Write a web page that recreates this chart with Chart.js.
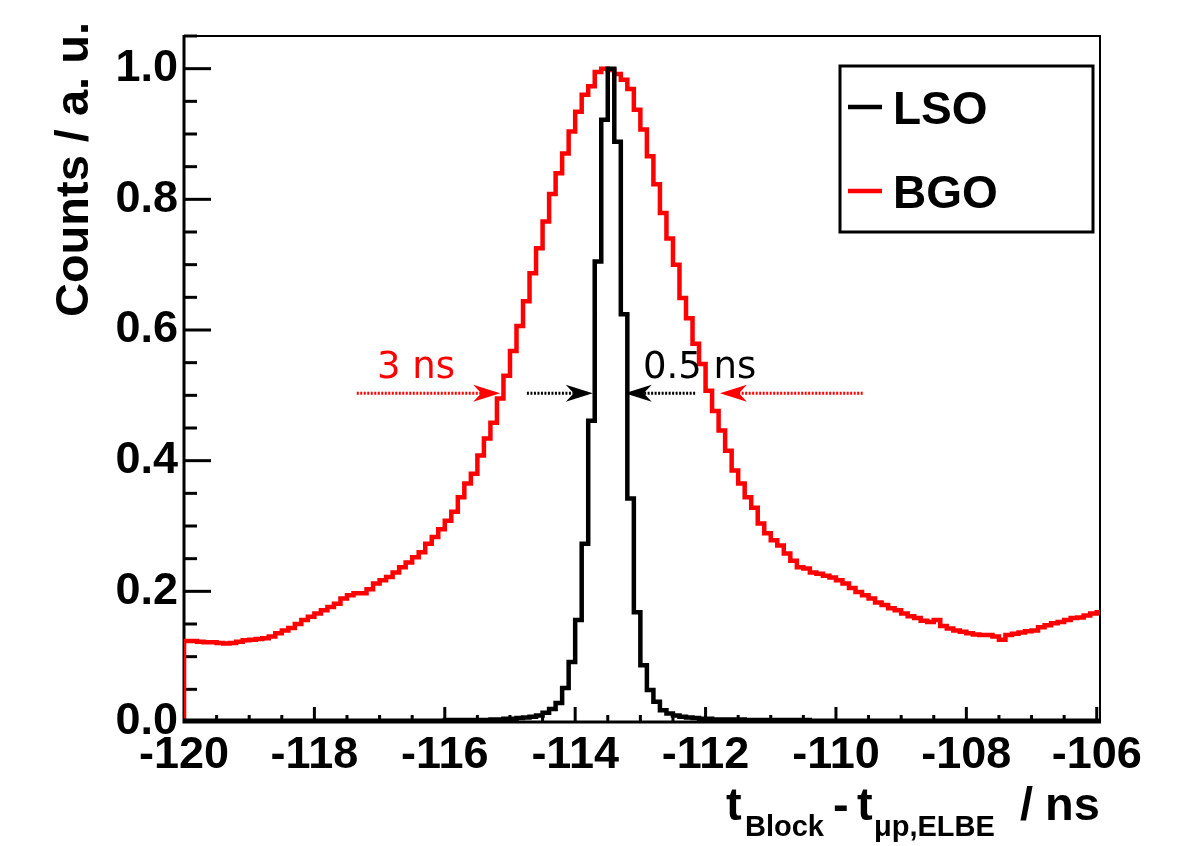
<!DOCTYPE html>
<html>
<head>
<meta charset="utf-8">
<script src="https://cdn.jsdelivr.net/npm/chart.js@4.4.1/dist/chart.umd.min.js"></script>
<style>
  html, body { margin: 0; padding: 0; background: #fff; }
  #chart { display: block; }
</style>
</head>
<body>
<canvas id="chart" width="1191" height="846"></canvas>
<script>
// histogram binning (0.1 ns bins starting at -120 ns)
const binStart = -120;
const binWidth = 0.1;

// LSO counts, normalised to peak
const lsoValues = [
  0.002, 0.002, 0.002, 0.002, 0.002, 0.002, 0.002, 0.002, 0.002, 0.002,
  0.002, 0.002, 0.002, 0.002, 0.002, 0.002, 0.002, 0.002, 0.002, 0.002,
  0.002, 0.002, 0.002, 0.002, 0.002, 0.002, 0.002, 0.002, 0.002, 0.002,
  0.002, 0.002, 0.002, 0.002, 0.002, 0.002, 0.002, 0.002, 0.002, 0.002,
  0.003, 0.003, 0.003, 0.003, 0.003, 0.003, 0.003, 0.004, 0.004, 0.005,
  0.005, 0.006, 0.007, 0.008, 0.010, 0.014, 0.020, 0.029, 0.052, 0.092,
  0.156, 0.273, 0.461, 0.705, 0.922, 1.000, 0.888, 0.624, 0.342, 0.168,
  0.087, 0.049, 0.031, 0.018, 0.013, 0.010, 0.008, 0.007, 0.006, 0.005,
  0.005, 0.004, 0.004, 0.004, 0.004, 0.004, 0.003, 0.003, 0.003, 0.003,
  0.003, 0.003, 0.003, 0.003, 0.003, 0.003, 0.002, 0.002, 0.002, 0.002,
  0.002, 0.002, 0.002, 0.002, 0.002, 0.002, 0.002, 0.002, 0.002, 0.002,
  0.002, 0.002, 0.002, 0.002, 0.002, 0.002, 0.002, 0.002, 0.002, 0.002,
  0.002, 0.002, 0.002, 0.002, 0.002, 0.002, 0.002, 0.002, 0.002, 0.002,
  0.002, 0.002, 0.002, 0.002, 0.002, 0.002, 0.002, 0.002, 0.002, 0.002,
  0.002
];

// BGO counts, normalised to peak
const bgoValues = [
  0.124, 0.124, 0.123, 0.122, 0.122, 0.121, 0.120, 0.121, 0.123, 0.125,
  0.126, 0.127, 0.128, 0.131, 0.136, 0.140, 0.144, 0.150, 0.156, 0.161,
  0.166, 0.171, 0.176, 0.181, 0.189, 0.194, 0.197, 0.197, 0.203, 0.212,
  0.217, 0.222, 0.229, 0.237, 0.244, 0.252, 0.260, 0.273, 0.283, 0.295,
  0.308, 0.322, 0.344, 0.365, 0.380, 0.408, 0.434, 0.458, 0.495, 0.530,
  0.568, 0.606, 0.644, 0.687, 0.725, 0.766, 0.808, 0.840, 0.870, 0.904,
  0.934, 0.960, 0.973, 0.995, 1.000, 0.998, 0.992, 0.983, 0.969, 0.937,
  0.907, 0.866, 0.823, 0.779, 0.740, 0.700, 0.649, 0.618, 0.579, 0.548,
  0.507, 0.476, 0.446, 0.415, 0.385, 0.365, 0.344, 0.328, 0.304, 0.289,
  0.278, 0.270, 0.258, 0.247, 0.237, 0.235, 0.229, 0.227, 0.224, 0.221,
  0.217, 0.212, 0.205, 0.199, 0.194, 0.189, 0.183, 0.179, 0.174, 0.171,
  0.166, 0.162, 0.159, 0.155, 0.153, 0.156, 0.147, 0.143, 0.140, 0.138,
  0.136, 0.134, 0.133, 0.133, 0.131, 0.126, 0.133, 0.135, 0.137, 0.139,
  0.140, 0.145, 0.148, 0.151, 0.153, 0.156, 0.159, 0.160, 0.163, 0.166,
  0.168
];

const xTickLabels = [-120, -118, -116, -114, -112, -110, -108, -106];
const yTickLabels = ["0.0", "0.2", "0.4", "0.6", "0.8", "1.0"];

const seriesNames = ["LSO", "BGO"];
const seriesColors = ["#000000", "#ff0000"];

// FWHM markers: [tail, tip] in ns at the half-maximum level
const halfLevel = 0.503;
const fwhmArrows = [
  { from: -117.35, to: -115.15, color: "#ff0000" },
  { from: -114.74, to: -113.73, color: "#000000" },
  { from: -112.16, to: -113.24, color: "#000000" },
  { from: -109.59, to: -111.78, color: "#ff0000" }
];
const fwhmLabels = [
  { text: "3 ns", x: -117.04, y: 0.527, color: "#ff0000" },
  { text: "0.5 ns", x: -112.96, y: 0.527, color: "#000000" }
];

function toSteps(values, fromZero) {
  const pts = [];
  if (fromZero) pts.push({ x: binStart, y: 0 });
  values.forEach((v, i) => pts.push({ x: binStart + i * binWidth, y: v }));
  pts.push({ x: binStart + values.length * binWidth, y: values[values.length - 1] });
  return pts;
}

const boldFont = "'Liberation Sans', Arial, sans-serif";

const rootStyle = {
  id: "rootStyle",
  beforeDatasetsDraw(chart) {
    const { ctx, chartArea: a, scales: { x, y } } = chart;
    ctx.save();
    ctx.strokeStyle = "#000";
    ctx.lineCap = "butt";

    // frame
    ctx.lineWidth = 2;
    ctx.beginPath();
    ctx.moveTo(a.left, a.top); ctx.lineTo(a.right, a.top); ctx.lineTo(a.right, a.bottom);
    ctx.stroke();
    ctx.lineWidth = 3;
    ctx.beginPath();
    ctx.moveTo(a.left, a.top - 1); ctx.lineTo(a.left, a.bottom); ctx.lineTo(a.right + 1, a.bottom);
    ctx.stroke();

    // x ticks, inward
    for (let k = 1; k <= 28; k++) {
      const px = x.getPixelForValue(-120 + k * 0.5);
      const len = k % 4 === 0 ? 15 : 7;
      ctx.beginPath(); ctx.moveTo(px, a.bottom); ctx.lineTo(px, a.bottom - len); ctx.stroke();
    }
    // y ticks, inward
    for (let k = 1; k <= 21; k++) {
      const py = y.getPixelForValue(k * 0.05);
      const len = k % 4 === 0 ? 27 : 13;
      ctx.beginPath(); ctx.moveTo(a.left, py); ctx.lineTo(a.left + len, py); ctx.stroke();
    }
    ctx.restore();
  },
  afterDatasetsDraw(chart) {
    const { ctx, scales: { x, y } } = chart;
    ctx.save();

    // FWHM arrows
    const py = y.getPixelForValue(halfLevel);
    fwhmArrows.forEach(ar => {
      const x0 = x.getPixelForValue(ar.from);
      const x1 = x.getPixelForValue(ar.to);
      const dir = x1 > x0 ? 1 : -1;
      const headLen = 27, headHalf = 8.5, notch = 8;
      ctx.strokeStyle = ar.color;
      ctx.fillStyle = ar.color;
      ctx.lineWidth = 3;
      ctx.setLineDash([2, 1.5]);
      ctx.beginPath(); ctx.moveTo(x0, py); ctx.lineTo(x1 - dir * (headLen - notch), py); ctx.stroke();
      ctx.setLineDash([]);
      ctx.beginPath();
      ctx.moveTo(x1, py);
      ctx.lineTo(x1 - dir * headLen, py - headHalf);
      ctx.lineTo(x1 - dir * (headLen - notch), py);
      ctx.lineTo(x1 - dir * headLen, py + headHalf);
      ctx.closePath();
      ctx.fill();
    });

    ctx.font = "37px 'DejaVu Sans'";
    ctx.textAlign = "left";
    ctx.textBaseline = "alphabetic";
    fwhmLabels.forEach(l => {
      ctx.fillStyle = l.color;
      ctx.fillText(l.text, x.getPixelForValue(l.x), y.getPixelForValue(l.y));
    });
    ctx.restore();
  },
  afterDraw(chart) {
    const { ctx } = chart;
    ctx.save();
    // legend
    ctx.strokeStyle = "#000";
    ctx.lineWidth = 3;
    ctx.strokeRect(840, 66, 253, 166);
    const rowsY = [107, 191];
    seriesNames.forEach((name, i) => {
      ctx.strokeStyle = seriesColors[i];
      ctx.lineWidth = 4.5;
      ctx.beginPath(); ctx.moveTo(848, rowsY[i]); ctx.lineTo(882, rowsY[i]); ctx.stroke();
      ctx.fillStyle = "#000";
      ctx.font = "bold 46px " + boldFont;
      ctx.textAlign = "left";
      ctx.textBaseline = "alphabetic";
      ctx.fillText(name, 893, rowsY[i] + 17);
    });

    // y title
    ctx.save();
    ctx.translate(88, 22);
    ctx.rotate(-Math.PI / 2);
    ctx.font = "bold 47px " + boldFont;
    ctx.textAlign = "right";
    ctx.textBaseline = "alphabetic";
    ctx.fillStyle = "#000";
    ctx.fillText("Counts / a. u.", 0, 0);
    ctx.restore();

    // x title with subscripts
    const base = 820;
    const parts = [
      { t: "t", x: 726, sub: false },
      { t: "Block", x: 745, sub: true },
      { t: "-", x: 833, sub: false },
      { t: "t", x: 857, sub: false },
      { t: "\u03bcp,ELBE", x: 874, sub: true },
      { t: "/", x: 1020, sub: false },
      { t: "ns", x: 1045, sub: false }
    ];
    ctx.fillStyle = "#000";
    ctx.textAlign = "left";
    parts.forEach(p => {
      ctx.font = p.sub ? "bold 29px " + boldFont : "bold 47px " + boldFont;
      ctx.fillText(p.t, p.x, p.sub ? base + 16 : base);
    });
    ctx.restore();
  }
};

const chart = new Chart(document.getElementById("chart").getContext("2d"), {
  type: "line",
  data: {
    datasets: [
      {
        label: seriesNames[0],
        data: toSteps(lsoValues, false),
        borderColor: seriesColors[0],
        borderWidth: 4.5,
        pointRadius: 0,
        stepped: "before",
        fill: false
      },
      {
        label: seriesNames[1],
        data: toSteps(bgoValues, true),
        borderColor: seriesColors[1],
        borderWidth: 4.5,
        pointRadius: 0,
        stepped: "before",
        fill: false
      }
    ]
  },
  options: {
    responsive: false,
    animation: false,
    devicePixelRatio: 1,
    layout: { padding: { top: 36, right: 91, left: 0, bottom: 0 } },
    plugins: {
      legend: { display: false },
      tooltip: { enabled: false }
    },
    scales: {
      x: {
        type: "linear",
        min: -120,
        max: -105.95,
        afterFit(scale) { scale.height = 124; },
        grid: { display: false, drawTicks: false },
        border: { display: false },
        afterBuildTicks(scale) { scale.ticks = xTickLabels.map(v => ({ value: v })); },
        ticks: {
          autoSkip: false,
          maxRotation: 0,
          padding: 7,
          color: "#000",
          font: { family: boldFont, weight: "bold", size: 45 },
          callback: v => String(v)
        }
      },
      y: {
        min: 0,
        max: 1.05,
        afterFit(scale) { scale.width = 184; },
        grid: { display: false, drawTicks: false },
        border: { display: false },
        afterBuildTicks(scale) { scale.ticks = yTickLabels.map(s => ({ value: parseFloat(s) })); },
        ticks: {
          padding: 6,
          color: "#000",
          font: { family: boldFont, weight: "bold", size: 45 },
          callback: v => v.toFixed(1)
        }
      }
    }
  },
  plugins: [rootStyle]
});
</script>
</body>
</html>
